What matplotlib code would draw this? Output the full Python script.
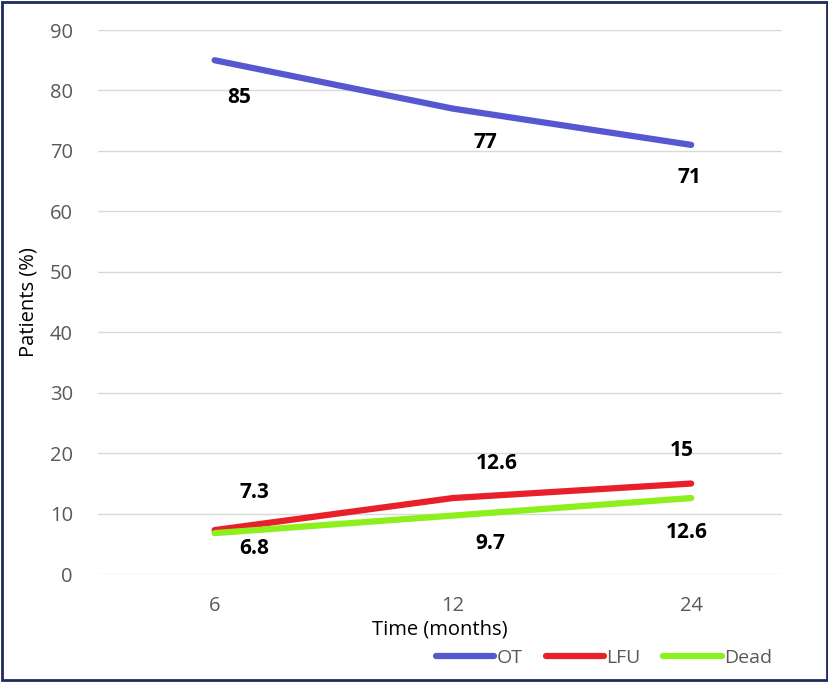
import numpy as np
import matplotlib.pyplot as plt
from matplotlib.patches import Rectangle

plt.rcParams['font.family'] = ['Open Sans', 'DejaVu Sans']

months = ['6', '12', '24']
ot = [85, 77, 71]
lfu = [7.3, 12.6, 15]
dead = [6.8, 9.7, 12.6]

# label offsets in pixels (dx, dy) relative to the point
ot_off = [(25, -37), (32, -34), (-2, -33)]
lfu_off = [(40, 38), (44, 35), (-9, 33)]
dead_off = [(40, -15), (37, -28), (-4, -34)]

fig = plt.figure(figsize=(8.29, 6.82), dpi=100)
ax = fig.add_axes([0.118, 0.158, 0.825, 0.798])

x = np.arange(len(months))
series = [(ot, 'OT', '#5558CF', ot_off),
          (lfu, 'LFU', '#E8202A', lfu_off),
          (dead, 'Dead', '#8CF01C', dead_off)]

for vals, name, col, offs in series:
    ax.plot(x, vals, color=col, lw=4.5, solid_capstyle='round', label=name)
    for xi, v, (dx, dy) in zip(x, vals, offs):
        ax.annotate(f'{v:g}', (xi, v), xytext=(dx, dy), textcoords='offset pixels',
                    ha='center', va='center', fontsize=15, fontweight='bold', color='black')

ax.set_ylim(0, 90)
ax.set_yticks(range(0, 91, 10))
ax.set_xlim(-0.49, 2.38)
ax.set_xticks(x)
ax.set_xticklabels(months)
ax.tick_params(length=0, labelsize=14.5, labelcolor='#595959', pad=16)
ax.tick_params(axis='y', pad=18)
ax.grid(axis='y', color='#D9D9D9', lw=1)
ax.set_axisbelow(True)
for s in ax.spines.values():
    s.set_visible(False)

ax.set_ylabel('Patients (%)', fontsize=14.5, color='black', labelpad=8)
ax.set_xlabel('Time (months)', fontsize=14.5, color='black', labelpad=2)

ax.legend(loc='center', bbox_to_anchor=(0.74, -0.154), ncol=3, frameon=False,
          fontsize=14, labelcolor='#595959', handlelength=3.0, handletextpad=0.1,
          columnspacing=1.2)

fig.patches.append(Rectangle((0.002, 0.003), 0.996, 0.994, transform=fig.transFigure,
                             fill=False, edgecolor='#1F2A5C', lw=2))

fig.savefig('out.png', dpi=100)
